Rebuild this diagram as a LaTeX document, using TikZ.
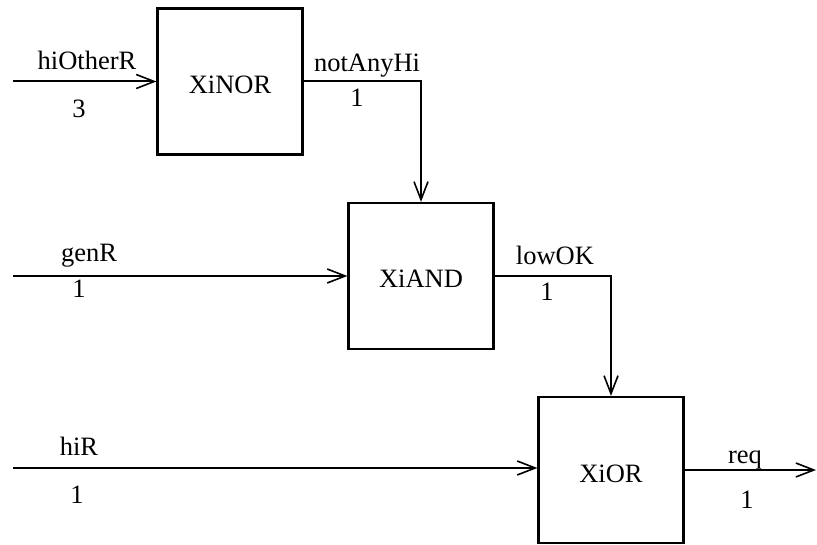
\documentclass[tikz,border=0pt]{standalone}
\usepackage{fontspec}
\setmainfont{Liberation Serif}
\usetikzlibrary{arrows.meta}
\begin{document}
\begin{tikzpicture}[x=1pt,y=-1pt,
  every node/.style={font=\fontsize{26.5}{30}\selectfont},
  gate/.style={draw,line width=2.2pt,minimum width=145pt,minimum height=146pt,inner sep=0pt,text height=24pt,text depth=0pt},
  wire/.style={line width=2pt,-{Straight Barb[length=18pt,width=14pt,line width=1.6pt]}},
  lbl/.style={anchor=base,inner sep=0pt}]
\useasboundingbox (0,0) rectangle (817,545);
\node[gate] (nor) at (230,81.5) {XiNOR};
\node[gate] (and) at (421,276) {XiAND};
\node[gate] (or) at (611,470) {XiOR};
\coordinate (inA) at (13,81.5);
\coordinate (inB) at (13,276);
\coordinate (inC) at (13,468);
\coordinate (outR) at (816,470);
\draw[wire] (inA) -- (nor.west);
\draw[wire] (nor.east) -| (and.north);
\draw[wire] (inB) -- (and.west);
\draw[wire] (and.east) -| (or.north);
\draw[wire] (inC) -- (or.west |- inC);
\draw[wire] (or.east) -- (outR);
\node[lbl] (l1) at (87,70) {hiOtherR};
\node[lbl] (n1) at (79,118) {3};
\node[lbl] (l2) at (367,72) {notAnyHi};
\node[lbl] (n2) at (357,107) {1};
\node[lbl] (l3) at (89,262) {genR};
\node[lbl] (n3) at (79,298) {1};
\node[lbl] (l4) at (555,265) {lowOK};
\node[lbl] (n4) at (547,301) {1};
\node[lbl] (l5) at (79,455) {hiR};
\node[lbl] (n5) at (77,503) {1};
\node[lbl] (l6) at (745,463) {req};
\node[lbl] (n6) at (747,508) {1};
\end{tikzpicture}
\end{document}
